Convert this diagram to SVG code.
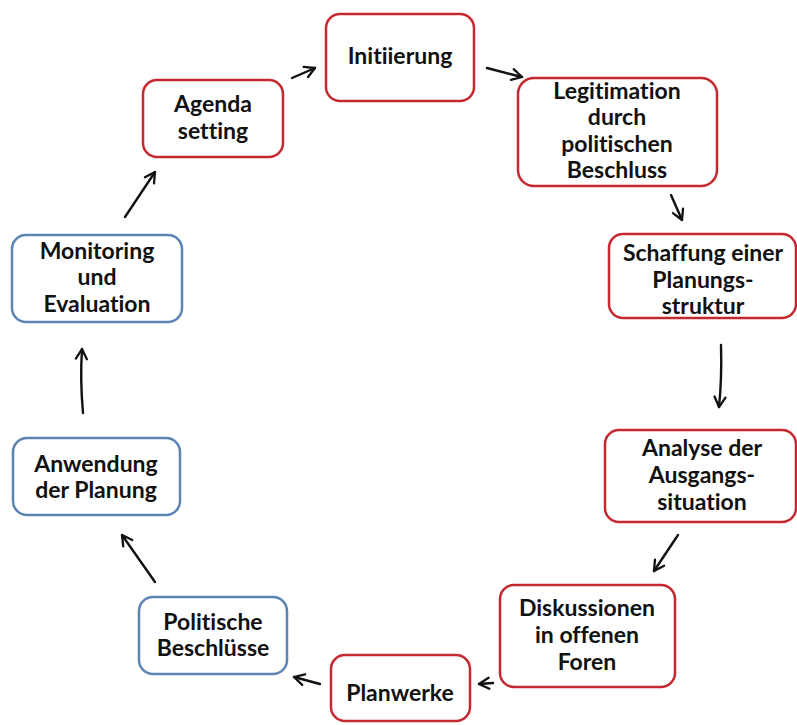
<svg xmlns="http://www.w3.org/2000/svg" width="797" height="725" viewBox="0 0 797 725">
<style>
.box{fill:#fff;stroke-width:2.5}
.red{stroke:#C5282F}
.blue{stroke:#5B84B5}
text{font-family:Lato,"Liberation Sans",sans-serif;font-weight:700;font-size:23px;fill:#111;text-anchor:middle;font-variant-ligatures:none}
.c{fill:none;stroke:#111;stroke-width:2.4;stroke-linecap:round;marker-end:url(#ah)}
</style>
<defs>
<marker id="ah" viewBox="0 0 14 14" refX="12" refY="7" markerWidth="14" markerHeight="14" markerUnits="userSpaceOnUse" orient="auto">
<path d="M2,1.5 L12,7 L2,12.5" fill="none" stroke="#111" stroke-width="2.3" stroke-linecap="round" stroke-linejoin="round"/>
</marker>
</defs>
<rect width="797" height="725" fill="#fff"/>
<g id="connectors">
<path class="c" d="M292,78 L315,68"/>
<path class="c" d="M487,68 L522,77"/>
<path class="c" d="M671,195 L682,220"/>
<path class="c" d="M721,345 Q722,378 719,407"/>
<path class="c" d="M678,535 L654,571"/>
<path class="c" d="M493,683 L479,684"/>
<path class="c" d="M320,684 L294,677"/>
<path class="c" d="M155,582 L122,535"/>
<path class="c" d="M83,413 Q80,380 82,349"/>
<path class="c" d="M125,217 L155,172"/>
</g>
<g id="agenda">
<rect class="box red" x="143" y="80" width="140" height="77" rx="14"/>
<text x="213" y="112">Agenda</text>
<text x="213" y="139">setting</text>
</g>
<g id="initiierung">
<rect class="box red" x="326" y="14" width="148" height="87" rx="14"/>
<text x="400" y="64">Initiierung</text>
</g>
<g id="legitimation">
<rect class="box red" x="518" y="78" width="199" height="108" rx="16"/>
<text x="617" y="99">Legitimation</text>
<text x="617" y="125">durch</text>
<text x="617" y="152">politischen</text>
<text x="617" y="178">Beschluss</text>
</g>
<g id="schaffung">
<rect class="box red" x="609" y="234" width="187" height="84" rx="14"/>
<text x="703" y="261">Schaffung einer</text>
<text x="703" y="288">Planungs-</text>
<text x="703" y="314">struktur</text>
</g>
<g id="analyse">
<rect class="box red" x="605" y="430" width="191" height="92" rx="14"/>
<text x="702" y="456">Analyse der</text>
<text x="702" y="483">Ausgangs-</text>
<text x="702" y="510">situation</text>
</g>
<g id="diskussionen">
<rect class="box red" x="500" y="585" width="175" height="102" rx="14"/>
<text x="587" y="616">Diskussionen</text>
<text x="587" y="643">in offenen</text>
<text x="587" y="670">Foren</text>
</g>
<g id="planwerke">
<rect class="box red" x="331" y="655" width="139" height="66" rx="14"/>
<text x="400" y="701">Planwerke</text>
</g>
<g id="politische">
<rect class="box blue" x="139" y="597" width="148" height="77" rx="14"/>
<text x="213" y="630">Politische</text>
<text x="213" y="656">Beschlüsse</text>
</g>
<g id="anwendung">
<rect class="box blue" x="13" y="438" width="167" height="77" rx="14"/>
<text x="96" y="472">Anwendung</text>
<text x="96" y="498">der Planung</text>
</g>
<g id="monitoring">
<rect class="box blue" x="12" y="235" width="170" height="87" rx="14"/>
<text x="97" y="259">Monitoring</text>
<text x="97" y="285">und</text>
<text x="97" y="312">Evaluation</text>
</g>
</svg>
